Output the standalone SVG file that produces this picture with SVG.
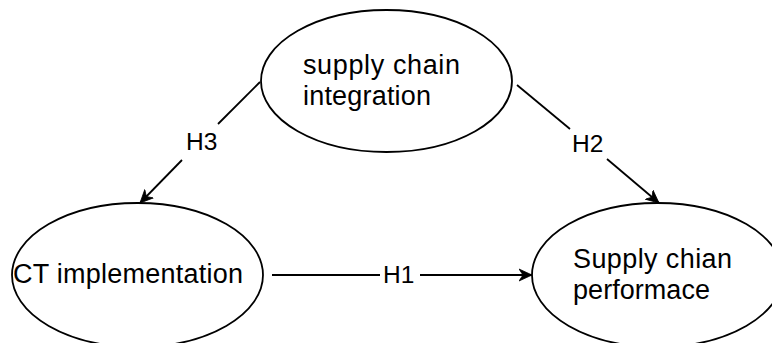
<svg xmlns="http://www.w3.org/2000/svg" width="772" height="343" viewBox="0 0 772 343">
  <style>
    .node { fill: #ffffff; stroke: #000000; stroke-width: 1.8; }
    .label { font-family: "Liberation Sans", Arial, sans-serif; font-size: 27px; fill: #000000; }
    .hyp { font-family: "Liberation Sans", Arial, sans-serif; font-size: 24.5px; fill: #000000; }
    .edge { fill: none; stroke: #000000; stroke-width: 1.8; }
  </style>
  <defs>
    <!-- barbed arrowhead with a notched back -->
    <marker id="arrow" viewBox="0 0 14 14" refX="13" refY="7" markerWidth="14" markerHeight="14" markerUnits="userSpaceOnUse" orient="auto">
      <path d="M0,1 L13,7 L0,13 L4,7 Z" fill="#000000" stroke="#000000" stroke-width="0.8" stroke-linejoin="miter"/>
    </marker>
  </defs>
  <rect width="772" height="343" fill="#ffffff"/>

  <!-- connectors: straight lines broken around their hypothesis labels -->
  <g id="connectors">
    <!-- H3: integration -> CT implementation -->
    <line class="edge" x1="260" y1="82" x2="218" y2="124"/>
    <line class="edge" x1="182" y1="160" x2="140" y2="203" marker-end="url(#arrow)"/>
    <text class="hyp" x="186" y="150">H3</text>
    <!-- H2: integration -> performance -->
    <line class="edge" x1="517" y1="85" x2="570" y2="129"/>
    <line class="edge" x1="607" y1="159" x2="659" y2="203" marker-end="url(#arrow)"/>
    <text class="hyp" x="572" y="152">H2</text>
    <!-- H1: CT implementation -> performance -->
    <line class="edge" x1="272" y1="275" x2="380" y2="275"/>
    <line class="edge" x1="420" y1="275" x2="532" y2="275" marker-end="url(#arrow)"/>
    <text class="hyp" x="383" y="283">H1</text>
  </g>

  <g id="node-integration">
    <ellipse class="node" cx="386.5" cy="81" rx="125.5" ry="71"/>
    <text class="label" x="303" y="74" textLength="157">supply chain</text>
    <text class="label" x="303" y="105" textLength="128">integration</text>
  </g>

  <g id="node-ct">
    <ellipse class="node" cx="137.5" cy="275" rx="125.5" ry="72"/>
    <text class="label" x="13" y="283" textLength="230">CT implementation</text>
  </g>

  <g id="node-performance">
    <ellipse class="node" cx="657.5" cy="275" rx="125.5" ry="72"/>
    <text class="label" x="573" y="268" textLength="159">Supply chian</text>
    <text class="label" x="573" y="299" textLength="137">performace</text>
  </g>
</svg>
